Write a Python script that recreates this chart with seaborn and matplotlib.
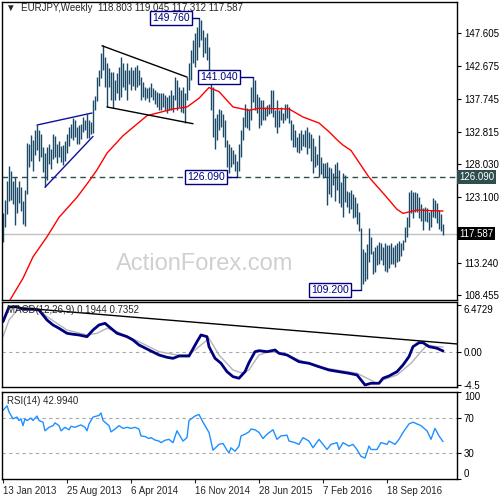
import pandas as pd
import seaborn as sns
import matplotlib.pyplot as plt

# weekly EURJPY bars, one entry per week starting 13 Jan 2013
highs = [120.6, 122.6, 125.5, 127.7, 127.0, 125.4, 126.0, 124.5, 125.5, 124.5,
         122.5, 124.1, 131.1, 131.0, 132.3, 131.5, 133.0, 133.8, 133.0, 132.4,
         130.5, 129.6, 130.5, 131.0, 130.2, 132.4, 132.1, 131.0, 131.4, 130.6,
         130.8, 131.4, 132.4, 133.5, 134.0, 134.8, 134.5, 133.5, 133.8, 134.0,
         135.0, 134.6, 135.5, 134.5, 134.3, 137.5, 138.1, 141.0, 142.0, 144.5,
         145.7, 144.0, 143.1, 142.3, 141.7, 141.7, 140.5, 141.6, 142.5, 144.0,
         143.0, 142.0, 143.1, 142.0, 142.5, 142.0, 142.5, 142.8, 142.0, 141.0,
         140.2, 139.5, 139.3, 139.5, 140.1, 139.3, 139.0, 138.7, 138.6, 138.6,
         138.6, 138.3, 138.0, 138.3, 139.0, 138.3, 141.0, 140.5, 139.5, 139.0,
         139.5, 138.6, 141.0, 143.0, 145.0, 146.5, 147.6, 148.5, 149.76, 149.5,
         148.0, 147.0, 147.6, 145.5, 141.5, 139.5, 134.8, 135.5, 136.2, 136.0,
         135.5, 134.5, 131.6, 131.0, 130.5, 130.0, 129.5, 128.5, 131.0, 133.0,
         135.0, 137.0, 136.4, 136.2, 139.5, 141.04, 140.5, 138.5, 138.0, 137.5,
         137.5, 136.5, 136.8, 137.0, 139.0, 139.0, 136.0, 137.5, 136.0, 136.5,
         135.6, 137.0, 137.0, 136.5, 134.5, 134.0, 133.0, 132.0, 132.6, 133.0,
         132.5, 133.0, 133.5, 132.8, 132.5, 131.9, 130.6, 129.5, 132.3, 129.0,
         128.1, 128.2, 128.3, 127.5, 127.4, 126.6, 128.0, 128.3, 127.1, 125.3,
         126.6, 126.3, 124.0, 123.8, 124.1, 123.5, 123.0, 122.2, 120.8, 118.4,
         115.2, 114.8, 116.0, 118.4, 117.0, 115.0, 115.5, 115.9, 116.3, 116.2,
         115.6, 116.2, 115.8, 115.9, 116.2, 115.5, 115.9, 116.2, 116.5, 116.2,
         116.6, 118.6, 120.1, 123.8, 124.1, 123.8, 123.8, 123.6, 123.0, 122.0,
         121.4, 121.6, 121.4, 120.8, 121.1, 122.9, 122.6, 122.2, 121.1, 120.5,
         119.045]
lows = [116.3, 118.5, 120.5, 122.5, 122.6, 122.0, 118.8, 120.6, 122.2, 121.0,
        119.0, 118.7, 123.5, 127.5, 128.5, 127.0, 129.3, 130.0, 128.5, 129.0,
        126.8, 124.5, 125.6, 128.0, 127.3, 128.7, 129.0, 128.2, 129.0, 128.3,
        127.9, 128.5, 129.6, 130.6, 131.8, 131.5, 132.0, 130.9, 131.0, 131.7,
        132.8, 133.0, 131.9, 131.9, 132.4, 132.6, 136.0, 137.4, 139.6, 140.8,
        142.0, 139.5, 136.5, 139.5, 137.5, 136.3, 137.5, 138.6, 137.5, 138.0,
        139.5, 139.0, 137.5, 140.0, 139.0, 139.7, 139.0, 139.5, 139.8, 137.5,
        138.0, 137.5, 137.8, 137.3, 138.0, 137.5, 137.0, 136.5, 136.1, 136.1,
        136.5, 136.0, 135.6, 136.0, 136.0, 135.8, 137.5, 136.0, 136.5, 135.8,
        135.6, 134.1, 137.5, 139.0, 140.5, 143.0, 142.5, 143.5, 145.5, 146.5,
        144.0, 144.5, 143.5, 140.0, 136.0, 132.0, 130.2, 131.5, 133.0, 133.5,
        132.0, 130.5, 127.5, 126.6, 127.5, 128.0, 127.0, 126.09, 127.0, 129.0,
        131.5, 133.5, 133.3, 133.0, 134.5, 137.2, 136.0, 135.6, 133.4, 133.8,
        134.6, 134.6, 135.2, 135.5, 135.6, 135.0, 133.5, 132.6, 133.5, 134.5,
        134.1, 134.5, 134.8, 134.1, 131.5, 130.5, 130.5, 129.8, 129.6, 130.0,
        130.6, 130.5, 129.5, 130.4, 128.5, 126.6, 127.5, 127.8, 126.0, 126.5,
        125.9, 126.0, 121.9, 123.5, 123.0, 124.8, 122.5, 124.1, 122.2, 121.5,
        120.0, 122.3, 121.5, 120.6, 121.3, 119.9, 120.0, 119.0, 118.0, 109.2,
        110.0, 110.5, 110.8, 113.3, 114.6, 111.6, 111.8, 112.9, 113.0, 113.7,
        112.9, 112.0, 111.8, 112.5, 113.0, 113.0, 112.6, 113.3, 113.5, 114.3,
        115.1, 116.3, 117.1, 118.6, 120.6, 119.9, 120.8, 120.8, 119.9, 119.5,
        118.1, 119.4, 119.3, 118.1, 118.6, 120.1, 119.9, 119.2, 118.2, 118.0,
        117.312]

# 55-week moving average (red)
ma_weeks = [3, 10, 15, 22, 28, 37, 43, 47, 52, 60, 72, 85, 92, 98, 103, 108,
            115, 123, 128, 143, 150, 158, 163, 167, 170, 174, 183, 191, 197,
            200, 207, 214, 220]
ma_values = [107.4, 110.9, 114.1, 117.1, 120.0, 123.0, 125.4, 127.1, 129.6,
             132.2, 135.2, 136.2, 136.5, 137.8, 139.4, 138.8, 136.5, 136.0,
             136.3, 136.2, 135.0, 134.1, 132.8, 131.6, 130.8, 130.0, 126.0,
             123.3, 121.2, 120.6, 121.1, 121.0, 120.95]

# MACD(12,26,9)
macd_weeks = [0, 3, 7, 10, 15, 18, 22, 25, 28, 32, 35, 38, 42, 45, 48, 51, 53,
              57, 62, 65, 68, 73, 78, 82, 85, 88, 93, 97, 99, 102, 103, 106,
              109, 112, 115, 118, 121, 123, 126, 128, 132, 136, 138, 142, 145,
              148, 153, 158, 163, 168, 173, 177, 179, 181, 184, 188, 190, 193,
              197, 200, 203, 205, 208, 210, 213, 217, 220]
macd_values = [4.20, 6.22, 6.26, 5.90, 5.90, 5.80, 4.43, 3.75, 3.30, 2.61,
               2.48, 2.38, 2.15, 3.06, 3.75, 3.98, 3.52, 2.61, 2.15, 1.69,
               1.01, 0.32, -0.36, -0.68, -0.82, -0.50, -0.50, 1.46, 2.38, 2.15,
               0.78, -0.81, -1.50, -2.65, -3.33, -3.55, -2.65, -1.40, 0.09,
               0.23, 0.09, 0.32, -0.13, -0.36, -0.82, -1.28, -1.50, -1.97,
               -2.42, -2.65, -2.87, -3.10, -3.78, -4.47, -4.24, -4.24, -3.55,
               -3.24, -2.65, -1.73, -0.59, 0.78, 1.32, 1.32, 0.78, 0.56, 0.19]
signal_weeks = [0, 3, 8, 13, 18, 22, 32, 42, 47, 52, 57, 68, 78, 87, 93, 98,
                103, 108, 115, 120, 123, 128, 133, 140, 148, 157, 167, 177,
                182, 187, 190, 197, 204, 209, 212, 217, 220]
signal_values = [2.15, 4.43, 6.04, 6.26, 5.80, 4.89, 3.06, 2.38, 2.61, 3.30,
                 2.83, 1.46, 0.09, -0.36, -0.36, 0.78, 1.92, -0.36, -2.42,
                 -2.87, -2.40, -0.36, 0.09, -0.13, -1.05, -1.97, -2.42, -2.87,
                 -3.55, -4.24, -3.78, -3.10, -1.50, 0.09, 1.01, 0.78, 0.74]
macd_trend_weeks = [3.5, 227]
macd_trend_values = [6.22, 1.15]

# RSI(14)
rsi_weeks = [0, 2, 3, 5, 7, 8, 9, 10, 11, 12, 14, 15, 17, 18, 20, 21, 23, 25,
             26, 28, 29, 31, 33, 34, 36, 38, 39, 41, 42, 43, 45, 48, 49, 50,
             53, 54, 56, 58, 60, 62, 64, 66, 68, 69, 71, 73, 74, 76, 78, 79,
             81, 83, 84, 85, 87, 88, 90, 92, 93, 96, 98, 100, 103, 105, 108,
             110, 112, 113, 114, 116, 118, 119, 121, 123, 124, 126, 128, 130,
             132, 135, 137, 139, 142, 143, 146, 148, 150, 153, 155, 158, 160,
             162, 164, 167, 168, 170, 173, 175, 177, 179, 181, 183, 184, 187,
             189, 192, 193, 196, 198, 200, 203, 205, 207, 209, 212, 214, 216,
             218, 220]
rsi_values = [78.9, 84.1, 77.1, 69.2, 71.2, 67.2, 69.2, 61.3, 69.2, 67.2, 70.0,
              67.2, 72.4, 67.2, 65.3, 55.4, 59.4, 61.3, 64.5, 61.3, 55.4, 59.4,
              56.6, 60.6, 59.4, 61.3, 62.1, 59.4, 55.4, 63.3, 71.2, 73.1, 75.9,
              67.2, 61.3, 54.2, 57.4, 61.3, 58.2, 59.4, 58.2, 59.4, 57.4, 49.5,
              48.8, 46.5, 47.6, 44.8, 43.6, 41.8, 44.5, 45.6, 43.6, 41.8, 55.4,
              51.5, 43.6, 47.6, 67.2, 72.4, 74.2, 65.3, 53.5, 33.1, 39.8, 40.9,
              33.1, 30.0, 35.9, 31.9, 37.8, 49.5, 51.5, 54.2, 57.4, 56.6, 53.5,
              46.5, 51.5, 56.6, 45.6, 49.5, 50.4, 43.6, 41.8, 39.8, 47.6, 43.6,
              35.9, 45.6, 39.8, 33.9, 39.8, 41.8, 33.9, 41.8, 37.8, 39.8, 33.9,
              26.0, 24.1, 37.8, 33.9, 33.9, 41.8, 39.8, 43.6, 39.8, 45.6, 53.5,
              63.3, 65.3, 63.3, 61.3, 55.4, 45.6, 58.2, 49.5, 42.99]

# trend lines drawn on the price chart (week, price)
blue_upper = ([17, 44.5], [133.8, 135.6])
blue_lower = ([21, 45], [124.5, 132.1])
black_upper = ([49.5, 92], [145.65, 140.97])
black_lower = ([52, 95], [136.5, 134.0])

# marked highs / lows: label, price, label end week, bar week
marks = [('149.760', 149.76, 94.5, 98), ('141.040', 141.04, 118.5, 125),
         ('126.090', 126.09, 112, 117), ('109.200', 109.2, 174, 179)]

price_ticks = [147.605, 142.675, 137.745, 132.815, 128.030, 123.100, 113.240, 108.455]
date_weeks = [0, 32, 64, 96, 128, 160, 192]
date_labels = ['13 Jan 2013', '25 Aug 2013', '6 Apr 2014', '16 Nov 2014',
               '28 Jun 2015', '7 Feb 2016', '18 Sep 2016']

sns.set_style('white')
plt.rcParams['font.family'] = ['Liberation Sans', 'DejaVu Sans']

bars = pd.DataFrame({'week': range(len(highs)), 'high': highs, 'low': lows})

fig = plt.figure(figsize=(5, 5), dpi=100)
ax1 = fig.add_axes([0.004, 0.4, 0.91, 0.596])
ax2 = fig.add_axes([0.004, 0.226, 0.91, 0.170])
ax3 = fig.add_axes([0.004, 0.042, 0.91, 0.174])

navy = '#000080'

# price panel
ax1.text(101, 113.0, 'ActionForex.com', fontsize=17, color='#d0d0d0',
         ha='center', va='center', zorder=0)
ax1.axhline(117.587, color='#c0c0c0', lw=1, zorder=1)
ax1.axhline(126.09, color='#2f4f4f', lw=1, ls=(0, (4, 3)), zorder=1)
ax1.vlines(bars['week'], bars['low'], bars['high'], color='#1b4a68', lw=1, zorder=2)
sns.lineplot(x=ma_weeks, y=ma_values, ax=ax1, color='red', lw=1, zorder=3)
for xs, ys, c in [(*blue_upper, '#1010a0'), (*blue_lower, '#1010a0'),
                  (*black_upper, 'black'), (*black_lower, 'black')]:
    ax1.plot(xs, ys, color=c, lw=1, zorder=3)
for label, price, end, week in marks:
    ax1.plot([end, week], [price, price], color=navy, lw=1, zorder=4)
    ax1.text(end - 1.1, price, label, ha='right', va='center', fontsize=7.5,
             color=navy, zorder=5,
             bbox=dict(boxstyle='square,pad=0.2', fc='white', ec=navy, lw=1))
ax1.set_ylim(107.65, 152.19)
ax1.set_yticks(price_ticks)
ax1.set_yticklabels([f'{t:.3f}' for t in price_ticks])
ytrans = ax1.get_yaxis_transform()
ax1.text(1.004, 126.09, '126.090', transform=ytrans, ha='left', va='center',
         fontsize=7, color='white', clip_on=False,
         bbox=dict(boxstyle='square,pad=0.2', fc='#2f4f4f', ec='none'))
ax1.text(1.004, 117.587, '117.587', transform=ytrans, ha='left', va='center',
         fontsize=7, color='white', clip_on=False,
         bbox=dict(boxstyle='square,pad=0.2', fc='black', ec='none'))
ax1.text(0.009, 0.979, '\u25bc  EURJPY,Weekly  118.803 119.045 117.312 117.587',
         transform=ax1.transAxes, fontsize=7, va='center', ha='left', zorder=1)

# MACD panel
ax2.axhline(0, color='#a9a9a9', lw=0.8, ls=(0, (3, 3)))
sns.lineplot(x=signal_weeks, y=signal_values, ax=ax2, color='#b4b4b4', lw=1)
sns.lineplot(x=macd_weeks, y=macd_values, ax=ax2, color=navy, lw=2)
ax2.plot(macd_trend_weeks, macd_trend_values, color='black', lw=1)
ax2.set_ylim(-4.75, 6.9)
ax2.set_yticks([-4.5, 0, 6.4729])
ax2.set_yticklabels(['-4.5', '0.00', '6.4729'])
ax2.text(0.011, 0.906, 'MACD(12,26,9) 0.1944 0.7352', transform=ax2.transAxes,
         fontsize=7, va='center', ha='left')

# RSI panel
for lvl in (70, 30):
    ax3.axhline(lvl, color='#a9a9a9', lw=0.8, ls=(0, (3, 3)))
sns.lineplot(x=rsi_weeks, y=rsi_values, ax=ax3, color='#1e90ff', lw=1)
ax3.set_ylim(0, 100)
ax3.set_yticks([0, 30, 70, 100])
ax3.set_yticklabels(['0', '30', '70', '100'])
ax3.text(0.011, 0.897, 'RSI(14) 42.9940', transform=ax3.transAxes,
         fontsize=7, va='center', ha='left')

for ax in (ax1, ax2, ax3):
    ax.set_xlim(-0.5, 227)
    ax.set_xlabel('')
    ax.set_ylabel('')
    ax.yaxis.tick_right()
    ax.tick_params(axis='y', right=True, direction='out', length=3, width=0.8,
                   pad=2, labelsize=7, colors='black')
    for s in ax.spines.values():
        s.set_color('black')
        s.set_linewidth(1)
ax1.set_xticks([])
ax2.set_xticks([])
ax3.set_xticks(date_weeks)
ax3.set_xticklabels(date_labels, ha='left', fontsize=7)
ax3.tick_params(axis='x', bottom=True, direction='out', length=3, width=0.8, pad=2)

fig.canvas.draw()
lab = ax3.get_yticklabels()
lab[0].set_va('bottom')
lab[-1].set_va('top')
ax2.get_yticklabels()[-1].set_va('top')

fig.savefig('out.png', dpi=100)
